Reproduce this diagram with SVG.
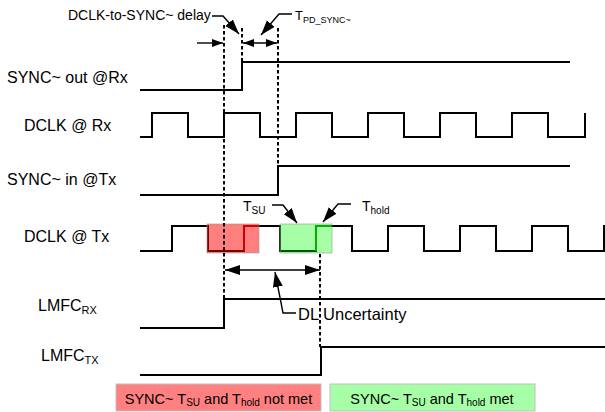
<svg xmlns="http://www.w3.org/2000/svg" width="605" height="412" viewBox="0 0 605 412">
<style>
text{font-family:"Liberation Sans",Arial,sans-serif;fill:#000}
.lbl{font-size:16px}
.sm{font-size:14px}
.box{font-size:14.5px}
.wave{fill:none;stroke:#000;stroke-width:2}
.dash{fill:none;stroke:#000;stroke-width:2;stroke-dasharray:3.5 2.5}
.arr{fill:none;stroke:#000;stroke-width:1.4}
</style>
<defs>
<marker id="ah" markerUnits="userSpaceOnUse" markerWidth="12" markerHeight="9" refX="11" refY="4" orient="auto-start-reverse"><path d="M0,0 L11,4 L0,8 z" fill="#000"/></marker>
<marker id="ahb" markerUnits="userSpaceOnUse" markerWidth="16" markerHeight="11" refX="15" refY="5" orient="auto-start-reverse"><path d="M0,0 L15,5 L0,10 z" fill="#000"/></marker>
</defs>
<g id="labels">
<text class="lbl" x="7" y="83">SYNC~ out @Rx</text>
<text class="lbl" x="24" y="131">DCLK @ Rx</text>
<text class="lbl" x="7" y="185">SYNC~ in @Tx</text>
<text class="lbl" x="24" y="242">DCLK @ Tx</text>
<text class="lbl" x="38" y="311">LMFC<tspan font-size="11" dy="3">RX</tspan></text>
<text class="lbl" x="41" y="361">LMFC<tspan font-size="11" dy="3">TX</tspan></text>
</g>
<g id="waveforms">
<path id="sync-out-rx" class="wave" d="M140,90 H242 V62 H570"/>
<path id="dclk-rx" class="wave" d="M140,137 H152 V113 H188 V137 H224 V113 H260 V137 H296 V113 H332 V137 H368 V113 H404 V137 H440 V113 H476 V137 H512 V113 H548 V137 H585 V113"/>
<path id="sync-in-tx" class="wave" d="M140,195 H278 V166 H570"/>
<path id="dclk-tx" class="wave" d="M140,251 H172 V226 H208 V251 H244 V226 H280 V251 H316 V226 H352 V251 H388 V226 H424 V251 H460 V226 H496 V251 H532 V226 H568 V251 H604 V226 H606"/>
<path id="lmfc-rx" class="wave" d="M140,328 H224 V299 H606"/>
<path id="lmfc-tx" class="wave" d="M140,375 H321 V347 H606"/>
</g>
<g id="windows">
<rect id="fail-window" x="207" y="224" width="52" height="29" fill="#ff0000" fill-opacity="0.5" stroke="#999" stroke-opacity="0.6" stroke-width="1"/>
<path d="M244,251 V226 H258" fill="none" stroke="#d00000" stroke-width="2"/>
<rect id="pass-window" x="280" y="224" width="52" height="29" fill="#00ff00" fill-opacity="0.35" stroke="#999" stroke-opacity="0.6" stroke-width="1"/>
<path d="M316,251 V226 H331" fill="none" stroke="#00b000" stroke-width="2"/>
</g>
<g id="connectors">
<line class="dash" x1="224" y1="25" x2="224" y2="300"/>
<line class="dash" x1="242" y1="28" x2="242" y2="62"/>
<line class="dash" x1="278" y1="28" x2="278" y2="166"/>
<line class="dash" x1="320" y1="254" x2="320" y2="347"/>
<line class="arr" x1="197" y1="43" x2="223" y2="43" marker-end="url(#ah)"/>
<line class="arr" x1="243" y1="43" x2="277" y2="43" marker-start="url(#ah)" marker-end="url(#ah)"/>
<line class="arr" x1="225" y1="270" x2="320" y2="270" marker-start="url(#ahb)" marker-end="url(#ahb)"/>
<polyline class="arr" points="212,16 223,16 239,34" marker-end="url(#ahb)"/>
<polyline class="arr" points="292,14 279,14 261,35" marker-end="url(#ahb)"/>
<polyline class="arr" points="272,205 283,205 297,223" marker-end="url(#ahb)"/>
<polyline class="arr" points="351,204 338,204 323,222" marker-end="url(#ahb)"/>
<polyline class="arr" points="296,313 283,313 275,272" marker-end="url(#ahb)"/>
</g>
<g id="annotations">
<text class="sm" x="68" y="20">DCLK-to-SYNC~ delay</text>
<text x="295" y="20" font-size="13">T<tspan font-size="9" dy="3">PD_SYNC~</tspan></text>
<text x="243" y="211" font-size="14">T<tspan font-size="10" dy="3">SU</tspan></text>
<text x="362" y="211" font-size="14">T<tspan font-size="10" dy="3">hold</tspan></text>
<text x="298" y="320" font-size="16.5">DL Uncertainty</text>
</g>
<g id="legend-fail">
<rect x="116" y="384" width="205" height="27" fill="#ff8080" stroke="#bfbfbf" stroke-width="1"/>
<text class="box" x="218.5" y="404" text-anchor="middle">SYNC~ T<tspan font-size="10" dy="2">SU</tspan><tspan dy="-2"> and T</tspan><tspan font-size="10" dy="2">hold</tspan><tspan dy="-2"> not met</tspan></text>
</g>
<g id="legend-pass">
<rect x="330" y="384" width="205" height="27" fill="#a6ffa6" stroke="#bfbfbf" stroke-width="1"/>
<text class="box" x="432" y="404" text-anchor="middle">SYNC~ T<tspan font-size="10" dy="2">SU</tspan><tspan dy="-2"> and T</tspan><tspan font-size="10" dy="2">hold</tspan><tspan dy="-2"> met</tspan></text>
</g>
</svg>
